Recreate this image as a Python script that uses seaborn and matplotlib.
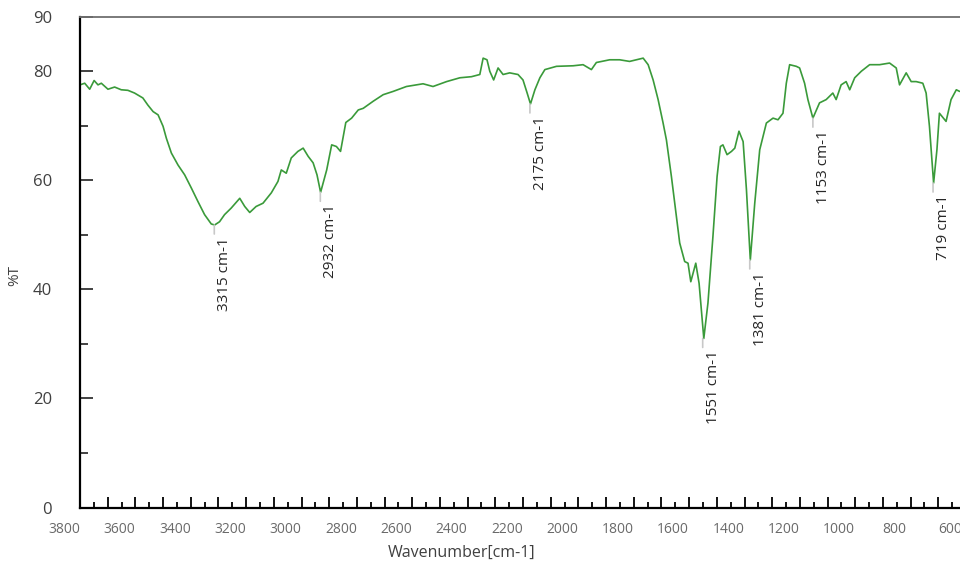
import matplotlib
matplotlib.use("Agg")
import matplotlib.pyplot as plt
import matplotlib.transforms as mtransforms
from matplotlib.ticker import FixedLocator, FuncFormatter
import seaborn as sns
import pandas as pd

# ---- data ----
wavenumber = [3800, 3783, 3765, 3749, 3735, 3723, 3699, 3675, 3651, 3627, 3603, 3573,
              3555, 3536, 3518, 3500, 3488, 3470, 3446, 3422, 3398, 3374, 3350, 3326,
              3314, 3296, 3278, 3254, 3223, 3205, 3187, 3164, 3139, 3109, 3085, 3073,
              3055, 3037, 3013, 2994, 2976, 2958, 2944, 2931, 2909, 2891, 2874, 2859,
              2840, 2819, 2795, 2777, 2741, 2705, 2669, 2621, 2561, 2525, 2476, 2428,
              2386, 2356, 2344, 2330, 2320, 2306, 2290, 2272, 2248, 2218, 2200, 2185,
              2173, 2157, 2139, 2121, 2079, 2019, 1983, 1953, 1935, 1887, 1851, 1815,
              1790, 1766, 1748, 1730, 1712, 1694, 1682, 1664, 1646, 1634, 1616, 1604,
              1594, 1576, 1564, 1547, 1532, 1514, 1499, 1487, 1478, 1463, 1447, 1435,
              1420, 1405, 1393, 1379, 1363, 1345, 1321, 1297, 1279, 1261, 1249, 1237,
              1213, 1201, 1183, 1171, 1153, 1129, 1105, 1081, 1069, 1051, 1033, 1020,
              1002, 978, 948, 912, 876, 852, 840, 816, 798, 780, 756, 744, 732, 717,
              705, 696, 672, 654, 635, 623]
transmittance = [77.5, 77.8, 76.7, 78.3, 77.5, 77.8, 76.7, 77.1, 76.6, 76.5, 76.0, 75.1,
                 73.8, 72.6, 72.0, 69.9, 67.7, 65.0, 62.8, 61.0, 58.6, 56.1, 53.7, 52.0,
                 51.8, 52.4, 53.7, 54.9, 56.7, 55.2, 54.1, 55.2, 55.8, 57.7, 59.8, 61.9,
                 61.3, 64.1, 65.3, 65.9, 64.4, 63.2, 61.0, 57.8, 61.9, 66.5, 66.2, 65.3,
                 70.6, 71.4, 72.9, 73.2, 74.5, 75.7, 76.3, 77.2, 77.7, 77.2, 78.1, 78.8,
                 79.0, 79.4, 82.4, 82.1, 80.0, 78.4, 80.6, 79.4, 79.7, 79.4, 78.4, 76.0,
                 74.0, 76.6, 78.8, 80.3, 80.9, 81.0, 81.2, 80.3, 81.6, 82.1, 82.1, 81.8,
                 82.1, 82.4, 81.2, 78.4, 74.8, 70.5, 67.4, 60.7, 53.4, 48.5, 45.1, 44.8,
                 41.4, 44.8, 41.1, 31.0, 37.5, 49.7, 60.7, 66.2, 66.5, 64.7, 65.3, 65.9,
                 69.0, 67.1, 58.3, 45.4, 55.8, 65.6, 70.5, 71.4, 71.1, 72.3, 77.8, 81.2,
                 80.9, 80.6, 77.8, 74.8, 71.4, 74.2, 74.8, 76.0, 74.8, 77.5, 78.1, 76.6,
                 78.8, 80.0, 81.2, 81.2, 81.5, 80.6, 77.5, 79.7, 78.1, 78.1, 77.8, 76.0,
                 69.9, 59.5, 65.6, 72.3, 70.8, 74.8, 76.6, 76.3]

peak_positions = [3315, 2932, 2175, 1551, 1381, 1153, 719]
peak_values = [51.8, 57.8, 74.0, 31.0, 45.4, 71.4, 59.5]
peak_labels = ["3315 cm-1", "2932 cm-1", "2175 cm-1", "1551 cm-1",
               "1381 cm-1", "1153 cm-1", "719 cm-1"]

x_tick_values = list(range(3800, 599, -200))
y_tick_values = [0, 20, 40, 60, 80, 90]

df = pd.DataFrame({"Wavenumber": wavenumber, "T": transmittance})

# ---- style ----
sns.set_style("white")
plt.rcParams["font.family"] = ["Open Sans", "DejaVu Sans"]

W, H, DPI = 960, 567, 100
fig = plt.figure(figsize=(W / DPI, H / DPI), dpi=DPI)
left_px, right_px, top_px, bottom_px = 80, 966, 16.7, 507.5
ax = fig.add_axes([left_px / W, (H - bottom_px) / H,
                   (right_px - left_px) / W, (bottom_px - top_px) / H])

sns.lineplot(data=df, x="Wavenumber", y="T", ax=ax, color="#3a9a3a",
             linewidth=1.2, sort=False, estimator=None)

ax.set_xlim(3800, 600)
ax.set_ylim(0, 90)

# spines
for s in ["left", "bottom"]:
    ax.spines[s].set_color("black")
    ax.spines[s].set_linewidth(1.6)
ax.spines["top"].set_color("#6f6f6f")
ax.spines["top"].set_linewidth(1.3)
ax.spines["right"].set_visible(False)

# x ticks
ax.xaxis.set_major_locator(FixedLocator(list(range(600, 3801, 100))))
ax.xaxis.set_minor_locator(FixedLocator(list(range(650, 3800, 100))))
ax.xaxis.set_major_formatter(FuncFormatter(lambda v, p: f"{int(round(v))}" if int(round(v)) in x_tick_values else ""))
ax.tick_params(axis="x", which="major", direction="in", length=8, width=1.3,
               color="black", labelsize=10, labelcolor="#6a6a6a", pad=10.5, bottom=True)
ax.tick_params(axis="x", which="minor", direction="in", length=4.3, width=1.3,
               color="black", bottom=True)
shift = mtransforms.ScaledTranslation(-16 / DPI, 0, fig.dpi_scale_trans)
for lbl in ax.get_xticklabels():
    lbl.set_transform(lbl.get_transform() + shift)

# y ticks
ax.yaxis.set_major_locator(FixedLocator(y_tick_values))
ax.yaxis.set_minor_locator(FixedLocator([10, 30, 50, 70]))
ax.tick_params(axis="y", which="major", direction="in", length=9.5, width=1.3,
               color="#333333", labelsize=12, labelcolor="#404040", pad=20, left=True)
ax.tick_params(axis="y", which="minor", direction="in", length=5.5, width=1.3,
               color="#333333", left=True)

ax.set_xlabel("Wavenumber[cm-1]", fontsize=11.5, color="#404040", va="center")
ax.xaxis.set_label_coords((462 - left_px) / (right_px - left_px),
                          (bottom_px - 553) / (bottom_px - top_px))
ax.set_ylabel("%T", fontsize=11, color="#404040", va="center")
ax.yaxis.set_label_coords((15 - left_px) / (right_px - left_px),
                          (bottom_px - 275) / (bottom_px - top_px))

# peak annotations
for xp, yp, lab in zip(peak_positions, peak_values, peak_labels):
    ax.annotate("", xy=(xp, yp), xytext=(0, -9), textcoords="offset pixels",
                arrowprops=dict(arrowstyle="-", color="#c8c8c8", lw=1.2,
                                shrinkA=0, shrinkB=0))
    ax.annotate(lab, xy=(xp, yp), xytext=(3, -12), textcoords="offset pixels",
                rotation=90, ha="left", va="top", fontsize=11, color="#262626")

fig.savefig("out.png", dpi=DPI)
